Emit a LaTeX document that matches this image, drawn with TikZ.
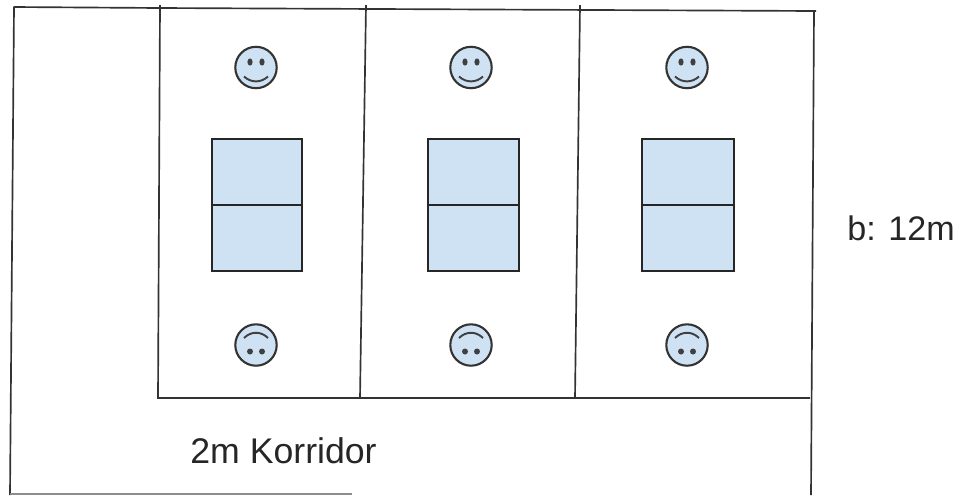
\documentclass[tikz,border=0pt]{standalone}
\usepackage{fontspec}
\setmainfont{Liberation Sans}
\definecolor{tablefill}{HTML}{CFE2F3}
\tikzset{
  wall/.style={draw=black!80, line width=0.95pt},
  tablebox/.style={draw=black!85, fill=tablefill, line width=1.2pt},
  facedraw/.style={draw=black!80, fill=tablefill, line width=1.2pt},
  mouth/.style={draw=black!75, line width=1.1pt},
  label/.style={anchor=base west, inner sep=0pt, font=\fontsize{20.3}{24}\selectfont, text=black!85}
}
\begin{document}
\begin{tikzpicture}[x=0.02cm, y=-0.02cm]
            \useasboundingbox (0,0) rectangle (962,495);

            % Draw outer walls
            \draw[wall, line join=round] (10,495) -- (14,7) -- (160,8) -- (816,11);
            \draw[wall] (814,10) -- (811,495);
            \draw[black!45, line width=0.95pt] (10,494) -- (352,494);

            % Draw room walls
            \draw[wall] (160,5) -- (158,398) -- (810,398);
            \draw[wall] (366,5) -- (360,398);
            \draw[wall] (580,5) -- (575,398);

            % Draw tables
            \foreach \tx/\ty in {212/302, 428/519, 642/734} {
              \draw[tablebox] (\tx,139) rectangle (\ty,271);
              \draw[tablebox] (\tx,205) -- (\ty,205);
            }

            % Draw faces on top
            \foreach \fx in {256, 471, 687} {
              \draw[facedraw] (\fx,67.5) circle (20.7);
              \fill[black!75] (\fx-6,62) ellipse (2.6 and 3.6);
              \fill[black!75] (\fx+6,62) ellipse (2.6 and 3.6);
              \draw[mouth] (\fx-12,76.5) .. controls (\fx-5,83) and (\fx+5,83) .. (\fx+12,76.5);
            }

            % Draw faces below
            \foreach \fx in {256, 471, 687} {
              \draw[facedraw] (\fx,345) circle (20.7);
              \fill[black!75] (\fx-6,351.5) circle (3);
              \fill[black!75] (\fx+6,351.5) circle (3);
              \draw[mouth] (\fx-12,338) .. controls (\fx-5,331) and (\fx+5,331) .. (\fx+12,338);
            }

            % Label sizes
            \node[label] (corridor) at (190,463) {2m Korridor};
            \node[label, font=\fontsize{19.4}{24}\selectfont] (width) at (847,240) {b: 12m};
\end{tikzpicture}
\end{document}
